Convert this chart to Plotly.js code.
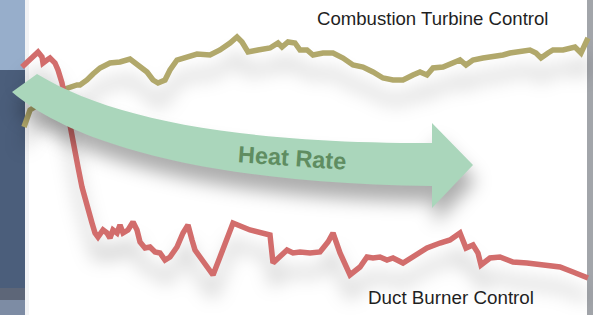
<!DOCTYPE html>
<html>
<head>
<meta charset="utf-8">
<script src="https://cdn.plot.ly/plotly-3.0.1.min.js"></script>
<style>
  html, body { margin: 0; padding: 0; background: #fff; }
  #chart { width: 593px; height: 315px; }
  .scatterlayer .trace .js-line { filter: drop-shadow(0px 20px 9px rgba(0,0,0,0.26)); }
  .layer-above .shapelayer path { filter: drop-shadow(3px 16px 9px rgba(0,0,0,0.32)); }
</style>
</head>
<body>
<div id="chart"></div>
<script>
// Position along the time axis (x) and reading (y, measured from the top of the frame)
const ctX = [24,27,30,62,70,77,80,87,93,100,110,120,130,135,140,147,153,158,165,170,177,187,197,
  210,220,230,237,242,248,258,270,278,282,288,295,300,307,313,323,333,343,353,363,373,383,393,
  403,413,420,427,433,443,453,460,466,473,483,493,503,510,520,530,536,541,548,553,563,575,581,585,588];
const ctY = [127,118,110,90,87,85,85,80,74,68,63,62,59,63,68,72,80,83,80,70,60,57,54,
  55,50,43,37,42,52,50,48,43,47,42,43,50,50,55,53,53,58,65,67,72,78,80,
  80,75,72,75,68,67,63,60,65,60,58,57,55,53,52,50,53,58,53,50,50,47,53,43,38];

const dbX = [22,30,38,42,43,47,50,55,58,62,72,75,78,82,87,92,95,98,103,107,110,113,117,120,123,128,133,137,140,145,150,155,160,165,170,177,183,188,192,195,
  200,207,213,220,227,233,250,270,273,280,287,293,300,310,320,328,333,340,350,360,367,373,380,387,393,
  403,413,427,440,450,460,463,466,473,478,481,490,500,513,527,543,560,573,583,588];
const dbY = [67,60,52,57,63,60,58,63,70,83,140,150,167,187,207,223,233,237,230,233,238,230,233,225,233,230,222,230,242,248,247,252,253,260,257,247,233,225,240,250,
  257,267,275,257,237,223,230,235,263,257,250,253,252,253,252,242,233,253,275,267,257,258,257,260,258,
  263,257,248,243,240,233,240,248,245,253,265,258,257,262,263,265,267,272,277,278];

const labelCT = "Combustion Turbine Control";
const labelDB = "Duct Burner Control";
const arrowLabel = "Heat Rate";

// Curved arrow outline (top edge, head, bottom edge)
const arrowTop = [[37,74],[110,118],[230,143],[432,143]];
const arrowHead = [[432,123],[473,165],[432,208],[432,186]];
const arrowBottom = [[230,184],[80,150],[12,92]];

function p(pt){ return pt[0] + ',' + pt[1]; }
const arrowPath = 'M' + p(arrowTop[0]) + ' C' + p(arrowTop[1]) + ' ' + p(arrowTop[2]) + ' ' + p(arrowTop[3]) +
  ' L' + arrowHead.map(p).join(' L') +
  ' C' + arrowBottom.map(p).join(' ') + ' Z';

const traces = [
  { x: ctX, y: ctY, mode: 'lines', line: { color: '#b1a86b', width: 5.5, shape: 'linear' }, hoverinfo: 'skip' },
  { x: dbX, y: dbY, mode: 'lines', line: { color: '#d26d6c', width: 5.5, shape: 'linear' }, hoverinfo: 'skip' }
];

const layout = {
  width: 593, height: 315,
  margin: { l: 0, r: 0, t: 0, b: 0 },
  paper_bgcolor: '#ffffff', plot_bgcolor: '#ffffff',
  showlegend: false,
  xaxis: { range: [0, 593], visible: false, fixedrange: true },
  yaxis: { range: [315, 0], visible: false, fixedrange: true },
  shapes: [
    { type: 'rect', layer: 'below', x0: -2, x1: 25, y0: -2, y1: 70, fillcolor: '#97aecb', line: { width: 0 } },
    { type: 'rect', layer: 'below', x0: -2, x1: 25, y0: 70, y1: 288, fillcolor: '#4b5e7b', line: { width: 0 } },
    { type: 'rect', layer: 'below', x0: -2, x1: 25, y0: 288, y1: 300, fillcolor: '#5d6678', line: { width: 0 } },
    { type: 'rect', layer: 'below', x0: -2, x1: 25, y0: 300, y1: 317, fillcolor: '#7d8ca4', line: { width: 0 } },
    { type: 'rect', layer: 'below', x0: 25, x1: 29, y0: -2, y1: 317, fillcolor: '#f2f3f5', line: { width: 0 } },
    { type: 'rect', layer: 'below', x0: 587, x1: 595, y0: -2, y1: 317, fillcolor: '#a2a5aa', line: { width: 0 } },
    { type: 'path', layer: 'above', path: arrowPath, fillcolor: '#aad6bb', line: { width: 0 } }
  ],
  annotations: [
    { x: 433, y: 18, text: labelCT, showarrow: false, font: { family: 'Liberation Sans, Arial, sans-serif', size: 18.6, color: '#1f1f1f' } },
    { x: 451, y: 297, text: labelDB, showarrow: false, font: { family: 'Liberation Sans, Arial, sans-serif', size: 18.8, color: '#1f1f1f' } },
    { x: 292, y: 158, text: '<b>' + arrowLabel + '</b>', textangle: 4, showarrow: false, font: { family: 'Liberation Sans, Arial, sans-serif', size: 23.5, color: '#5f8d61' } }
  ]
};

Plotly.newPlot('chart', traces, layout, { staticPlot: true, displayModeBar: false });
</script>
</body>
</html>
